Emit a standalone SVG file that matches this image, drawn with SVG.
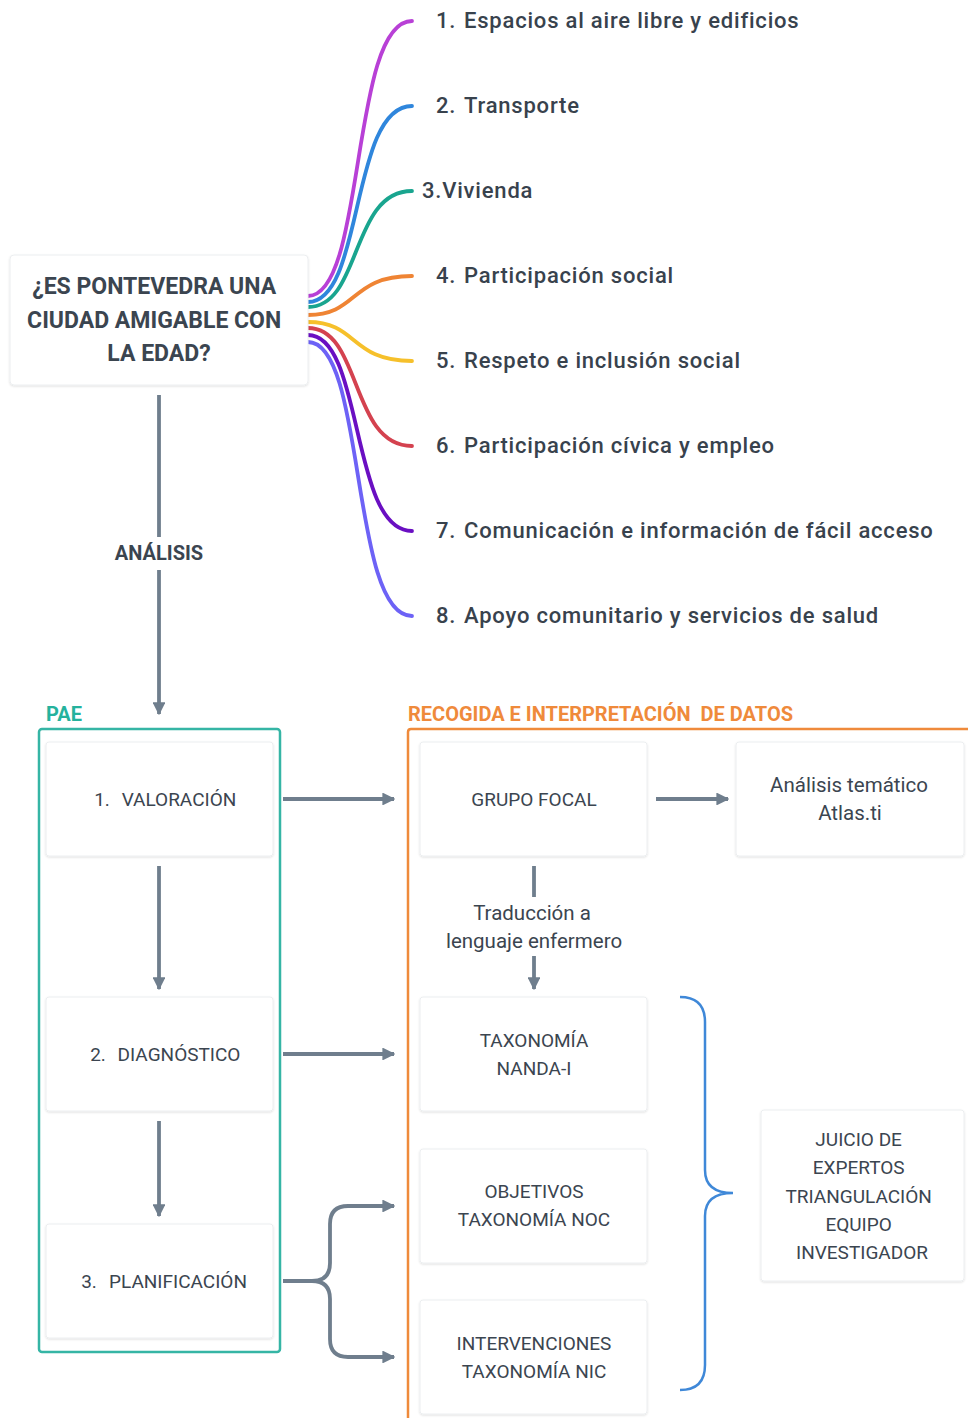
<svg xmlns="http://www.w3.org/2000/svg" width="968" height="1418" viewBox="0 0 968 1418">
  <defs>
    <marker id="arrow" viewBox="0 0 10 10" refX="9" refY="5" markerWidth="3.4" markerHeight="3.4" orient="auto" markerUnits="strokeWidth">
      <path d="M0,0 L10,5 L0,10 Z" fill="#6f7e8d"/>
    </marker>
    <filter id="shadow" x="-5%" y="-5%" width="110%" height="115%">
      <feDropShadow dx="0" dy="1" stdDeviation="1" flood-color="#000" flood-opacity="0.12"/>
    </filter>
    <style>
      .box { fill: #ffffff; stroke: #eceef0; stroke-width: 1; filter: url(#shadow); }
      .t { font-family: Roboto, "Liberation Sans", sans-serif; fill: #3b4550; text-anchor: middle; }
      .node { font-size: 19px; }
      .lower { font-size: 20.5px; }
      .item { font-family: Roboto, "Liberation Sans", sans-serif; font-size: 22px; font-weight: 500; letter-spacing: 0.8px; fill: #38424d; }
      .branch { fill: none; stroke-width: 3.8; stroke-linecap: round; }
      .link { fill: none; stroke: #6f7e8d; stroke-width: 3.8; marker-end: url(#arrow); }
      .line { fill: none; stroke: #6f7e8d; stroke-width: 3.8; }
      .head { font-family: Roboto, "Liberation Sans", sans-serif; font-size: 20px; font-weight: 700; }
    </style>
  </defs>
  <rect width="968" height="1418" fill="#ffffff"/>

  <!-- connectors -->
  <g id="connectors">
    <!-- mind-map branches -->
    <path class="branch" stroke="#b840d6" d="M308,296 C366,296 350,21 412,21"/>
    <path class="branch" stroke="#2f86dc" d="M308,302 C364,302 350,106 412,106"/>
    <path class="branch" stroke="#19a58f" d="M308,307 C362,307 350,191 412,191"/>
    <path class="branch" stroke="#ef8434" d="M308,315 C358,315 350,276 412,276"/>
    <path class="branch" stroke="#f6c02b" d="M308,322 C358,322 350,361 412,361"/>
    <path class="branch" stroke="#d4424f" d="M308,328 C362,328 350,446 412,446"/>
    <path class="branch" stroke="#6a0fc2" d="M308,335 C364,335 350,531 412,531"/>
    <path class="branch" stroke="#6d62f6" d="M308,342 C366,342 350,616 412,616"/>

    <!-- ANÁLISIS -->
    <path class="line" d="M159,395 V537"/>
    <path class="link" d="M159,570 V714"/>

    <!-- PAE internal -->
    <path class="link" d="M159,866 V989"/>
    <path class="link" d="M159,1121 V1216"/>

    <!-- PAE to data -->
    <path class="link" d="M283,799 H394"/>
    <path class="link" d="M283,1054 H394"/>
    <path class="line" d="M283,1281 H312 Q330,1281 330,1263"/>
    <path class="link" d="M330,1263 V1224 Q330,1206 348,1206 H394"/>
    <path class="link" d="M330,1299 V1339 Q330,1357 348,1357 H394"/>
    <path class="line" d="M312,1281 Q330,1281 330,1299"/>

    <!-- data flow -->
    <path class="link" d="M656,799 H728"/>
    <path class="line" d="M534,866 V897"/>
    <path class="link" d="M534,956 V989"/>

    <!-- brace -->
    <path fill="none" stroke="#3f88d8" stroke-width="2.5" d="M680,997 Q705,997 705,1022 V1170 Q705,1193 733,1193 Q705,1193 705,1216 V1365 Q705,1390 680,1390"/>
  </g>

  <!-- central question -->
  <g id="question">
    <rect class="box" x="10" y="255" width="298" height="130" rx="4"/>
    <text class="t" x="158" font-size="23" font-weight="700" fill="#2c3640">
      <tspan x="157" y="294">¿ES PONTEVEDRA UNA</tspan>
      <tspan x="157" y="328">CIUDAD AMIGABLE CON</tspan>
      <tspan x="159" y="361">LA EDAD?</tspan>
    </text>
  </g>

  <!-- domains -->
  <g id="domains">
    <text class="item" y="28"><tspan x="436">1.</tspan><tspan x="464">Espacios al aire libre y edificios</tspan></text>
    <text class="item" y="113"><tspan x="436">2.</tspan><tspan x="464">Transporte</tspan></text>
    <text class="item" y="198" x="422">3.Vivienda</text>
    <text class="item" y="283"><tspan x="436">4.</tspan><tspan x="464">Participación social</tspan></text>
    <text class="item" y="368"><tspan x="436">5.</tspan><tspan x="464">Respeto e inclusión social</tspan></text>
    <text class="item" y="453"><tspan x="436">6.</tspan><tspan x="464">Participación cívica y empleo</tspan></text>
    <text class="item" y="538"><tspan x="436">7.</tspan><tspan x="464">Comunicación e información de fácil acceso</tspan></text>
    <text class="item" y="623"><tspan x="436">8.</tspan><tspan x="464">Apoyo comunitario y servicios de salud</tspan></text>
  </g>

  <g id="label-analisis">
    <text class="t head" x="159" y="560" fill="#2c3640">ANÁLISIS</text>
  </g>

  <!-- PAE -->
  <g id="pae">
    <text class="head" x="46" y="721" fill="#25b29d">PAE</text>
    <rect x="39" y="729" width="241" height="623" rx="3" fill="none" stroke="#35b5a5" stroke-width="2.5"/>
  </g>
  <g id="valoracion">
    <rect class="box" x="46" y="742" width="227" height="114" rx="3"/>
    <text class="t node" y="806"><tspan x="102">1.</tspan><tspan x="179">VALORACIÓN</tspan></text>
  </g>
  <g id="diagnostico">
    <rect class="box" x="46" y="997" width="227" height="114" rx="3"/>
    <text class="t node" y="1061"><tspan x="98">2.</tspan><tspan x="179">DIAGNÓSTICO</tspan></text>
  </g>
  <g id="planificacion">
    <rect class="box" x="46" y="1224" width="227" height="114" rx="3"/>
    <text class="t node" y="1288"><tspan x="89">3.</tspan><tspan x="178">PLANIFICACIÓN</tspan></text>
  </g>

  <!-- data collection -->
  <g id="recogida">
    <text class="head" x="408" y="721" fill="#ef8a3b" xml:space="preserve">RECOGIDA E INTERPRETACIÓN  DE DATOS</text>
    <path d="M408,1420 V732 Q408,729 411,729 H970" fill="none" stroke="#ef8a3b" stroke-width="2.5"/>
  </g>
  <g id="grupo-focal">
    <rect class="box" x="420" y="742" width="227" height="114" rx="3"/>
    <text class="t node" x="534" y="806">GRUPO FOCAL</text>
  </g>
  <g id="analisis-tematico">
    <rect class="box" x="736" y="742" width="228" height="114" rx="3"/>
    <text class="t lower"><tspan x="849" y="792">Análisis temático</tspan><tspan x="850" y="820">Atlas.ti</tspan></text>
  </g>
  <g id="traduccion">
    <text class="t lower"><tspan x="532" y="920">Traducción a</tspan><tspan x="534" y="948">lenguaje enfermero</tspan></text>
  </g>
  <g id="nanda">
    <rect class="box" x="420" y="997" width="227" height="114" rx="3"/>
    <text class="t node"><tspan x="534" y="1047">TAXONOMÍA</tspan><tspan x="534" y="1075">NANDA-I</tspan></text>
  </g>
  <g id="noc">
    <rect class="box" x="420" y="1149" width="227" height="114" rx="3"/>
    <text class="t node"><tspan x="534" y="1198">OBJETIVOS</tspan><tspan x="534" y="1226">TAXONOMÍA NOC</tspan></text>
  </g>
  <g id="nic">
    <rect class="box" x="420" y="1300" width="227" height="114" rx="3"/>
    <text class="t node"><tspan x="534" y="1350">INTERVENCIONES</tspan><tspan x="534" y="1378">TAXONOMÍA NIC</tspan></text>
  </g>
  <g id="juicio">
    <rect class="box" x="761" y="1110" width="203" height="171" rx="3"/>
    <text class="t node" font-size="19.5">
      <tspan x="861" y="1146">JUICIO DE</tspan>
      <tspan x="861" y="1174">EXPERTOS</tspan>
      <tspan x="861" y="1203">TRIANGULACIÓN</tspan>
      <tspan x="861" y="1231">EQUIPO</tspan>
      <tspan x="862" y="1259">INVESTIGADOR</tspan>
    </text>
  </g>
</svg>
